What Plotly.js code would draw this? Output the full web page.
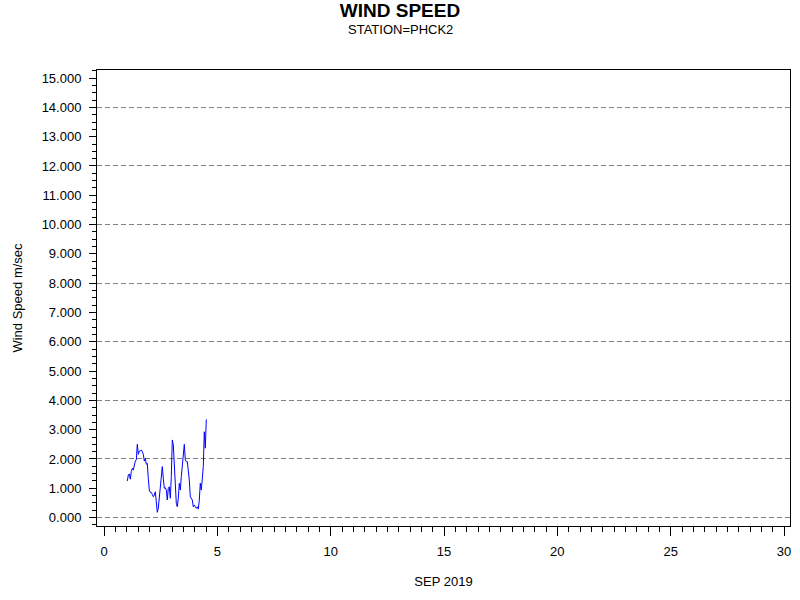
<!DOCTYPE html>
<html>
<head>
<meta charset="utf-8">
<script src="https://cdn.plot.ly/plotly-3.0.1.min.js"></script>
<style>html,body{margin:0;padding:0;background:#fff;}#chart{width:800px;height:600px;}</style>
</head>
<body>
<div id="chart"></div>
<script>
// Day of September 2019 (decimal)
const dayOfMonth = [
  1.028,1.072,1.116,1.160,1.204,1.249,1.293,1.337,1.381,1.425,
  1.469,1.513,1.557,1.601,1.646,1.690,1.734,1.778,1.822,1.866,
  1.910,1.954,1.998,2.043,2.087,2.131,2.175,2.219,2.263,2.307,
  2.351,2.395,2.440,2.484,2.528,2.572,2.616,2.660,2.704,2.748,
  2.792,2.837,2.881,2.925,2.969,3.013,3.057,3.101,3.146,3.190,
  3.234,3.278,3.322,3.366,3.410,3.454,3.498,3.543,3.587,3.631,
  3.675,3.719,3.763,3.807,3.851,3.896,3.940,3.984,4.028,4.072,
  4.116,4.160,4.204,4.248,4.293,4.337,4.381,4.425,4.469,4.513
];
// Wind speed, m/sec
const windSpeed = [
  1.25,1.45,1.49,1.31,1.57,1.68,1.62,1.82,1.93,1.97,
  2.50,2.16,2.27,2.27,2.31,2.25,2.16,1.93,2.02,1.82,
  1.85,1.34,0.94,0.86,0.86,0.79,0.71,0.77,0.88,0.54,
  0.18,0.32,0.71,1.14,1.45,1.74,1.34,1.00,1.02,0.94,
  0.60,1.00,1.05,0.66,1.40,2.65,2.48,1.85,1.05,0.49,
  0.37,0.66,1.17,0.94,1.40,1.80,1.91,2.50,1.97,1.91,
  1.91,1.68,1.28,0.71,0.66,0.60,0.37,0.43,0.37,0.32,
  0.37,0.29,0.60,1.17,0.94,1.40,1.74,2.93,2.37,3.35
];
const chartTitle = "WIND SPEED";
const stationLabel = "STATION=PHCK2";
const xTitle = "SEP 2019";
const yTitle = "Wind Speed m/sec";

const FONT = "Liberation Sans, Arial, sans-serif";

const traces = [
  {
    x: dayOfMonth, y: windSpeed, type: "scatter", mode: "lines",
    line: {color: "#0000ff", width: 1}, hoverinfo: "x+y", showlegend: false
  },
  {
    x: [], y: [], type: "scatter", mode: "lines", yaxis: "y2",
    showlegend: false, hoverinfo: "skip"
  }
];

const yRange = [-0.287, 15.276];

const layout = {
  width: 800, height: 600,
  paper_bgcolor: "#ffffff", plot_bgcolor: "#ffffff",
  margin: {l: 97, r: 10, t: 70, b: 74, autoexpand: false},
  font: {family: FONT, size: 13, color: "#000"},
  showlegend: false,
  title: {
    text: "<b>" + chartTitle + "</b>",
    font: {family: FONT, size: 19, color: "#000"},
    x: 0.5, xref: "container", xanchor: "center",
    y: 0.982, yref: "container", yanchor: "middle"
  },
  annotations: [
    {
      text: stationLabel, xref: "paper", yref: "paper",
      x: (400 - 97) / 693, y: (526 - 30) / 456,
      xanchor: "center", yanchor: "middle", showarrow: false,
      font: {family: FONT, size: 13, color: "#000"}
    }
  ],
  xaxis: {
    range: [-0.309, 30.264], autorange: false,
    tickmode: "linear", tick0: 0, dtick: 5,
    ticks: "outside", ticklen: 9, tickwidth: 1, tickcolor: "#000",
    minor: {dtick: 0.5, tick0: 0, ticks: "outside", ticklen: 5, tickwidth: 1, tickcolor: "#000", showgrid: false},
    showline: true, linecolor: "#000", linewidth: 1, mirror: true,
    showgrid: false, zeroline: false,
    ticklabelstandoff: 4,
    tickfont: {family: FONT, size: 13, color: "#000"},
    title: {text: xTitle, font: {family: FONT, size: 13, color: "#000"}, standoff: 19}
  },
  yaxis: {
    range: yRange, autorange: false,
    tickmode: "linear", tick0: 0, dtick: 1, tickformat: ".3f",
    ticks: "outside", ticklen: 7, tickwidth: 1, tickcolor: "#000",
    minor: {dtick: 0.25, tick0: 0, ticks: "outside", ticklen: 4, tickwidth: 1, tickcolor: "#000", showgrid: false},
    showline: true, linecolor: "#000", linewidth: 1, mirror: true,
    showgrid: false, zeroline: false,
    ticklabelstandoff: 5,
    tickfont: {family: FONT, size: 13, color: "#000"},
    title: {text: yTitle, font: {family: FONT, size: 13, color: "#000"}, standoff: 16}
  },
  yaxis2: {
    overlaying: "y", range: yRange, autorange: false,
    tickmode: "linear", tick0: 0, dtick: 2,
    showticklabels: false, ticks: "", showline: false, zeroline: false,
    showgrid: true, gridcolor: "#808080", gridwidth: 1, griddash: "5px,3px"
  }
};

Plotly.newPlot("chart", traces, layout, {displayModeBar: false, staticPlot: true});
</script>
</body>
</html>
